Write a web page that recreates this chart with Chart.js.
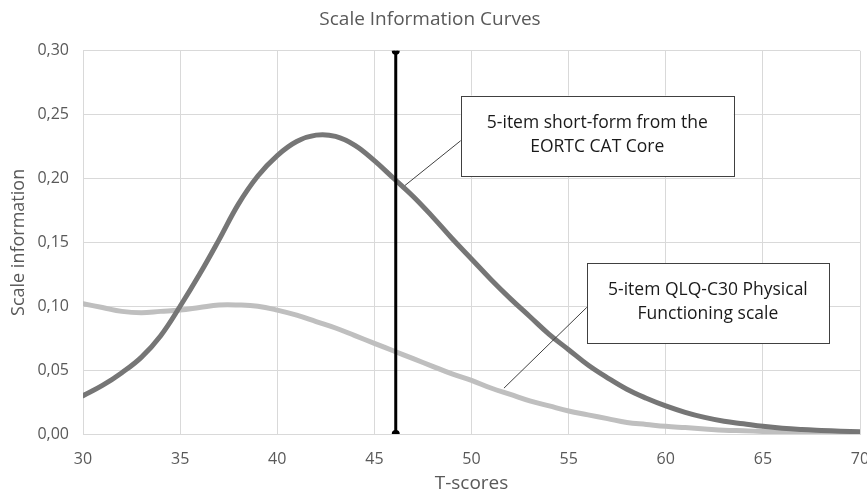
<!DOCTYPE html>
<html>
<head>
<meta charset="utf-8">
<script src="https://cdn.jsdelivr.net/npm/chart.js@4"></script>
<style>
  html, body { margin: 0; padding: 0; background: #fff; }
  #wrap { width: 867px; height: 495px; }
</style>
</head>
<body>
<div id="wrap"><canvas id="chart" width="867" height="495"></canvas></div>
<script>
// T-scores on the x axis
const tScores = [30, 31, 32, 33, 34, 35, 36, 37, 38, 39, 40, 41, 42, 43, 44, 45, 46, 47, 48, 49, 50,
  51, 52, 53, 54, 55, 56, 57, 58, 59, 60, 61, 62, 63, 64, 65, 66, 67, 68, 69, 70];

// 5-item short-form from the EORTC CAT Core
const catCoreInfo = [0.030, 0.038, 0.048, 0.060, 0.077, 0.100, 0.125, 0.152, 0.180, 0.202, 0.218,
  0.229, 0.234, 0.233, 0.226, 0.214, 0.200, 0.186, 0.170, 0.153, 0.137,
  0.121, 0.106, 0.092, 0.078, 0.066, 0.054, 0.044, 0.035, 0.028, 0.022,
  0.017, 0.013, 0.010, 0.008, 0.006, 0.0045, 0.0035, 0.0028, 0.0022, 0.0018];

// 5-item QLQ-C30 Physical Functioning scale
const qlqPfInfo = [0.102, 0.099, 0.096, 0.095, 0.096, 0.097, 0.099, 0.101, 0.101, 0.100, 0.097,
  0.093, 0.088, 0.083, 0.077, 0.071, 0.065, 0.059, 0.053, 0.047, 0.042,
  0.036, 0.031, 0.026, 0.022, 0.018, 0.015, 0.012, 0.009, 0.0075, 0.006,
  0.005, 0.004, 0.003, 0.0025, 0.002, 0.0015, 0.001, 0.0008, 0.0005, 0.0003];

// vertical reference line
const cutX = 46.1;
const cutY = [0, 0.30];

// callouts: box corners and leader anchors, in data units
const callouts = [
  { lines: ['5-item short-form from the', 'EORTC CAT Core'],
    box: [49.45, 0.265, 63.5, 0.202], from: [46.57, 0.1945], to: [49.45, 0.2297] },
  { lines: ['5-item QLQ-C30 Physical', 'Functioning scale'],
    box: [55.94, 0.1336, 68.4, 0.0711], from: [51.67, 0.0359], to: [55.94, 0.0992] }
];

const FONT = '"Open Sans", "DejaVu Sans", sans-serif';

const calloutPlugin = {
  id: 'callouts',
  afterDatasetsDraw(chart) {
    const ctx = chart.ctx;
    const xs = chart.scales.x, ys = chart.scales.y;
    ctx.save();
    callouts.forEach((c) => {
      const x1 = xs.getPixelForValue(c.box[0]), y1 = ys.getPixelForValue(c.box[1]);
      const x2 = xs.getPixelForValue(c.box[2]), y2 = ys.getPixelForValue(c.box[3]);
      ctx.strokeStyle = '#404040';
      ctx.lineWidth = 1;
      ctx.beginPath();
      ctx.moveTo(xs.getPixelForValue(c.from[0]), ys.getPixelForValue(c.from[1]));
      ctx.lineTo(xs.getPixelForValue(c.to[0]), ys.getPixelForValue(c.to[1]));
      ctx.stroke();
      ctx.fillStyle = '#fff';
      ctx.fillRect(x1, y1, x2 - x1, y2 - y1);
      ctx.strokeRect(Math.round(x1) + 0.5, Math.round(y1) + 0.5, Math.round(x2 - x1), Math.round(y2 - y1));
      ctx.fillStyle = '#1a1a1a';
      ctx.font = '17.5px ' + FONT;
      ctx.textAlign = 'center';
      ctx.textBaseline = 'middle';
      const cx = (x1 + x2) / 2, cy = (y1 + y2) / 2;
      c.lines.forEach((t, i) => {
        ctx.fillText(t, cx, cy + (i - (c.lines.length - 1) / 2) * 24 - 1);
      });
    });
    ctx.restore();
  }
};

const toPoints = (ys) => tScores.map((x, i) => ({ x: x, y: ys[i] }));

new Chart(document.getElementById('chart'), {
  type: 'scatter',
  data: {
    datasets: [
      {
        label: 'cut',
        data: cutY.map((y) => ({ x: cutX, y: y })),
        showLine: true,
        borderColor: '#000',
        backgroundColor: '#000',
        borderWidth: 3,
        pointRadius: 2.5,
        order: 0
      },
      {
        label: '5-item short-form from the EORTC CAT Core',
        data: toPoints(catCoreInfo),
        showLine: true,
        borderColor: '#767676',
        borderWidth: 5,
        borderCapStyle: 'round',
        tension: 0.4,
        pointRadius: 0,
        order: 1
      },
      {
        label: '5-item QLQ-C30 Physical Functioning scale',
        data: toPoints(qlqPfInfo),
        showLine: true,
        borderColor: '#bfbfbf',
        borderWidth: 5,
        borderCapStyle: 'round',
        tension: 0.4,
        pointRadius: 0,
        order: 2
      }
    ]
  },
  options: {
    responsive: false,
    animation: false,
    layout: { padding: { left: 0, right: 7, top: 0, bottom: 0 } },
    plugins: {
      legend: { display: false },
      tooltip: { enabled: false },
      title: {
        display: true,
        text: 'Scale Information Curves',
        color: '#595959',
        font: { family: FONT, size: 19, weight: 'normal' },
        padding: { top: 8, bottom: 20 }
      }
    },
    scales: {
      x: {
        type: 'linear',
        min: 30,
        max: 70,
        ticks: { stepSize: 5, color: '#595959', font: { family: FONT, size: 16 }, padding: 16, maxRotation: 0 },
        grid: { color: '#d9d9d9', drawTicks: false },
        border: { color: '#d9d9d9' },
        title: { display: true, text: 'T-scores', color: '#595959', font: { family: FONT, size: 19 }, padding: { top: 0, bottom: 0 } },
        afterFit(scale) {
          scale.height = 61;
          scale.paddingLeft = 0;
          scale.paddingRight = 0;
        }
      },
      y: {
        min: 0,
        max: 0.30,
        ticks: {
          stepSize: 0.05,
          color: '#595959',
          font: { family: FONT, size: 16 },
          padding: 14,
          callback: (v) => v.toFixed(2).replace('.', ',')
        },
        grid: { color: '#d9d9d9', drawTicks: false },
        border: { color: '#d9d9d9' },
        title: { display: true, text: 'Scale information', color: '#595959', font: { family: FONT, size: 18 }, padding: { top: 8, bottom: 4 } },
        afterFit(scale) {
          scale.width = 83;
          scale.paddingTop = 0;
          scale.paddingBottom = 0;
        }
      }
    }
  },
  plugins: [calloutPlugin]
});
</script>
</body>
</html>
